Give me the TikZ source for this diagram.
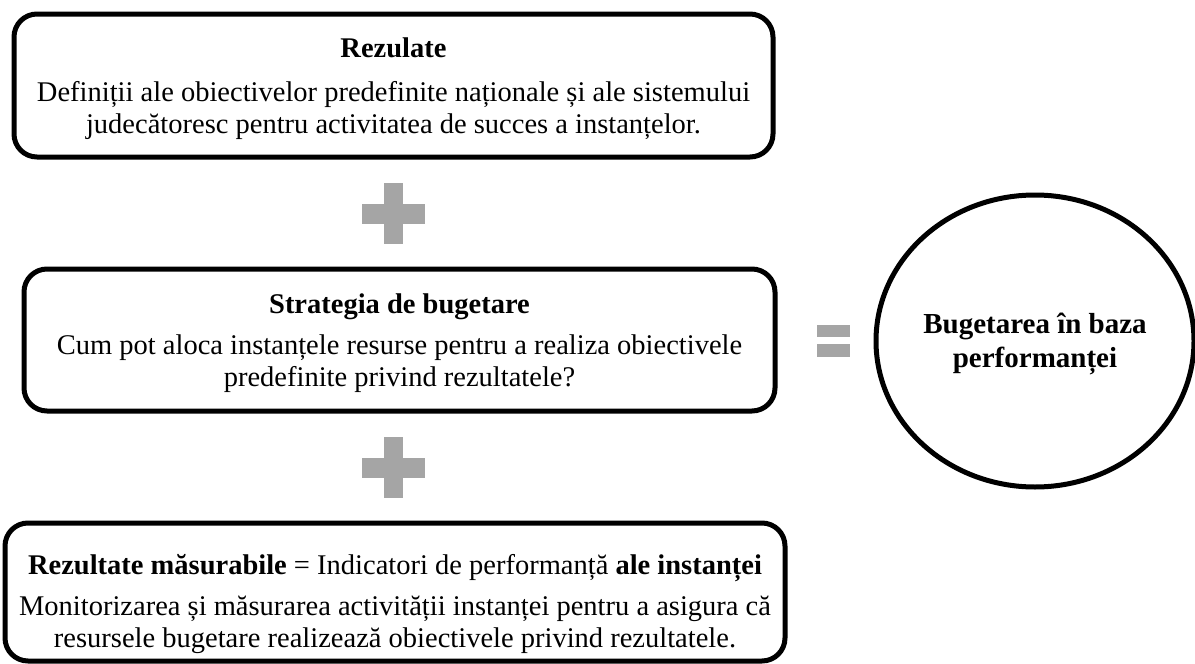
\documentclass[tikz,border=0pt]{standalone}
\usepackage{fontspec}
\setmainfont{Liberation Serif}
\usetikzlibrary{shapes.geometric}
\definecolor{signgray}{HTML}{A5A5A5}
\tikzset{
  box/.style={draw=black, line width=5pt, rounded corners=23pt, rectangle, inner sep=0pt},
  boxtext/.style={align=center, inner sep=0pt, font=\fontsize{28.5}{32}\selectfont},
  bigcirc/.style={draw=black, line width=5pt, ellipse, inner sep=0pt},
  circtext/.style={align=center, inner sep=0pt, font=\fontsize{29}{34}\selectfont\bfseries},
  sign/.style={fill=signgray, draw=none}
}
\begin{document}
\begin{tikzpicture}[x=1pt,y=-1pt]
\useasboundingbox (0,0) rectangle (1195,664);
% boxes
\node[box, minimum width=759pt, minimum height=143pt] (res) at (393.5,85.5) {};
\node[box, minimum width=751pt, minimum height=142pt] (strat) at (399.5,340) {};
\node[box, minimum width=780pt, minimum height=138pt] (mas) at (395,592) {};
\node[bigcirc, minimum width=318pt, minimum height=292pt] (perf) at (1035,341) {};
% texts
\node[boxtext] (resT) at ([yshift=-3.5pt]res.center)
  {\textbf{Rezulate}\\[12pt]Definiții ale obiectivelor predefinite naționale și ale sistemului\\judecătoresc pentru activitatea de succes a instanțelor.};
\node[boxtext] (stratT) at ([yshift=-3pt]strat.center)
  {\textbf{Strategia de bugetare}\\[9pt]Cum pot aloca instanțele resurse pentru a realiza obiectivele\\predefinite privind rezultatele?};
\node[boxtext] (masT) at ([yshift=-12pt]mas.center)
  {\textbf{Rezultate măsurabile} = Indicatori de performanță \textbf{ale instanței}\\[9pt]Monitorizarea și măsurarea activității instanței pentru a asigura că\\resursele bugetare realizează obiectivele privind rezultatele.};
\node[circtext] (perfT) at ([yshift=-2.5pt]perf.center)
  {Bugetarea în baza\\performanței};
% plus signs
\coordinate (p1) at (393.5,213.5);
\coordinate (p2) at (393.5,467.5);
\fill[sign] ([xshift=-9.5pt,yshift=30.5pt]p1) rectangle ([xshift=9.5pt,yshift=-30.5pt]p1);
\fill[sign] ([xshift=-31.5pt,yshift=10pt]p1) rectangle ([xshift=31.5pt,yshift=-10pt]p1);
\fill[sign] ([xshift=-9.5pt,yshift=30.5pt]p2) rectangle ([xshift=9.5pt,yshift=-30.5pt]p2);
\fill[sign] ([xshift=-31.5pt,yshift=10pt]p2) rectangle ([xshift=31.5pt,yshift=-10pt]p2);
% equals sign
\coordinate (eq) at (833.5,341);
\fill[sign] ([xshift=-16.5pt,yshift=16pt]eq) rectangle ([xshift=16.5pt,yshift=4pt]eq);
\fill[sign] ([xshift=-16.5pt,yshift=-3pt]eq) rectangle ([xshift=16.5pt,yshift=-16pt]eq);
\end{tikzpicture}
\end{document}
